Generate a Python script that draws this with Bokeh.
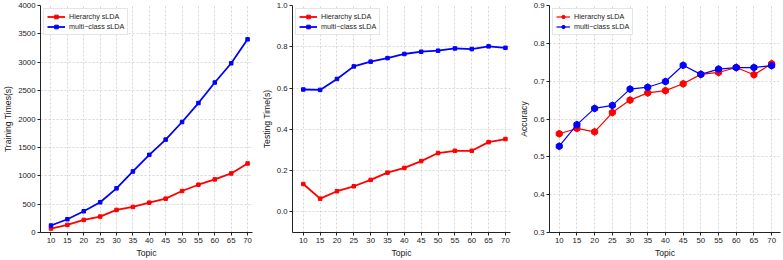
import math
from bokeh.plotting import figure
from bokeh.layouts import row
from bokeh.models import FixedTicker, Range1d, NumeralTickFormatter
from bokeh.embed import file_html
from bokeh.resources import INLINE

topics = [10, 15, 20, 25, 30, 35, 40, 45, 50, 55, 60, 65, 70]
series_names = ["Hierarchy sLDA", "multi\u2212class sLDA"]

train_hier = [70, 134, 222, 281, 398, 450, 526, 596, 731, 842, 936, 1041, 1216]
train_multi = [123, 234, 374, 532, 778, 1076, 1368, 1637, 1947, 2281, 2643, 2982, 3404]

test_hier = [0.135, 0.064, 0.100, 0.124, 0.155, 0.190, 0.213, 0.246, 0.285, 0.296, 0.296, 0.338, 0.353]
test_multi = [0.593, 0.591, 0.644, 0.705, 0.728, 0.745, 0.765, 0.776, 0.781, 0.792, 0.789, 0.802, 0.795]

acc_hier = [0.561, 0.575, 0.566, 0.617, 0.650, 0.669, 0.675, 0.693, 0.718, 0.723, 0.736, 0.717, 0.746]
acc_multi = [0.528, 0.585, 0.628, 0.636, 0.679, 0.684, 0.699, 0.742, 0.718, 0.732, 0.736, 0.736, 0.741]

train_ticks = [0, 500, 1000, 1500, 2000, 2500, 3000, 3500, 4000]
test_ticks = [0.0, 0.2, 0.4, 0.6, 0.8, 1.0]
acc_ticks = [0.3, 0.4, 0.5, 0.6, 0.7, 0.8, 0.9]

FONT = "Liberation Sans"
COLORS = ["#ff0000", "#0000ff"]


def make_fig(width, xr, yr, yticks, ylabel, fmt, borders):
    l, r, t, b = borders
    p = figure(width=width, height=260, output_backend="svg", toolbar_location=None,
               x_range=Range1d(*xr), y_range=Range1d(*yr),
               min_border_left=l, min_border_right=r, min_border_top=t, min_border_bottom=b)
    p.outline_line_color = None
    p.background_fill_color = "white"
    p.border_fill_color = "white"
    p.xaxis.ticker = FixedTicker(ticks=topics)
    p.yaxis.ticker = FixedTicker(ticks=yticks)
    if fmt:
        p.yaxis.formatter = NumeralTickFormatter(format=fmt)
    p.xaxis.axis_label = "Topic"
    p.yaxis.axis_label = ylabel
    for ax in (p.xaxis, p.yaxis):
        ax.axis_line_color = "#222222"
        ax.axis_line_width = 1
        ax.major_tick_line_color = "#222222"
        ax.major_tick_out = 3
        ax.major_tick_in = 0
        ax.minor_tick_line_color = None
        ax.major_label_text_font = FONT
        ax.major_label_text_font_size = "7.8px"
        ax.major_label_text_color = "#222222"
        ax.major_label_standoff = 2
        ax.axis_label_text_font = FONT
        ax.axis_label_text_font_size = "8.6px"
        ax.axis_label_text_font_style = "normal"
        ax.axis_label_text_color = "#222222"
        ax.axis_label_standoff = 2
    for g in (p.xgrid, p.ygrid):
        g.grid_line_color = "#cccccc"
        g.grid_line_dash = "2 2"
        g.grid_line_width = 0.8
    return p


def style_legend(p, glyph_w):
    lg = p.legend[0]
    lg.location = "top_left"
    lg.label_text_font = FONT
    lg.label_text_font_size = "7.2px"
    lg.label_text_color = "#222222"
    lg.label_height = 9
    lg.glyph_height = 9
    lg.glyph_width = glyph_w
    lg.label_standoff = 4
    lg.spacing = 1
    lg.padding = 3
    lg.margin = 3
    lg.border_line_color = "#cccccc"
    lg.border_line_width = 0.8
    lg.background_fill_alpha = 0.9


# Panel 1: training time
p1 = make_fig(258, (6.8, 71.5), (0, 4000), train_ticks, "Training Times(s)", None, (33, 6, 5, 27))
for ys, c, name in zip([train_hier, train_multi], COLORS, series_names):
    p1.line(topics, ys, line_color=c, line_width=1.8, legend_label=name)
    p1.scatter(topics, ys, marker="square", size=3.5, fill_color=c, line_color=c, legend_label=name)
style_legend(p1, 18)

# Panel 2: testing time
p2 = make_fig(257, (6.8, 71.5), (-0.1, 1.0), test_ticks, "Testing Time(s)", "0.0", (29, 5, 5, 28))
for ys, c, name in zip([test_hier, test_multi], COLORS, series_names):
    p2.line(topics, ys, line_color=c, line_width=1.8, legend_label=name)
    p2.scatter(topics, ys, marker="square", size=3.5, fill_color=c, line_color=c, legend_label=name)
style_legend(p2, 18)

# Panel 3: accuracy
p3 = make_fig(268, (7.25, 72.5), (0.3, 0.9), acc_ticks, "Accuracy", "0.0", (28, 3, 3, 23))
for ys, c, name in zip([acc_hier, acc_multi], COLORS, series_names):
    p3.line(topics, ys, line_color=c, line_width=1.2, legend_label=name)
    p3.scatter(topics, ys, marker="hex", size=7, angle=math.pi / 2,
               fill_color=c, line_color=c, legend_label=name)
style_legend(p3, 14)

layout = row(p1, p2, p3)
open("out.html", "w").write(file_html(layout, INLINE))
